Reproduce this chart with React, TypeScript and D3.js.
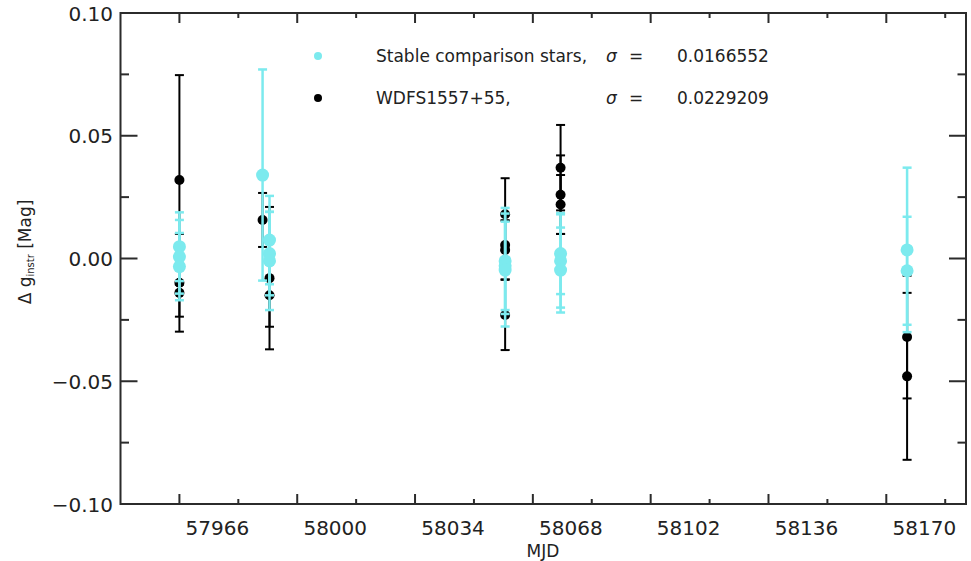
import React from "react";
import * as d3 from "d3";

// Comparison-star nights: MJD, Δg and 1σ error
const cmpMjd = [57966, 57966, 57966, 57990, 57992, 57992, 57992, 58060, 58060, 58060, 58076, 58076, 58076, 58176, 58176];
const cmpDmag = [0.0048, 0.0007, -0.0033, 0.034, 0.0075, 0.002, -0.001, -0.001, -0.003, -0.0047, 0.002, -0.001, -0.0047, 0.0035, -0.005];
const cmpErr = [0.014, 0.015, 0.0137, 0.043, 0.018, 0.017, 0.02, 0.0216, 0.018, 0.023, 0.0165, 0.019, 0.0173, 0.0335, 0.022];

// WDFS1557+55 measurements
const wdMjd = [57966, 57966, 57966, 57990, 57992, 57992, 58060, 58060, 58060, 58060, 58076, 58076, 58076, 58176, 58176];
const wdDmag = [0.032, -0.0099, -0.014, 0.0157, -0.008, -0.015, 0.018, 0.0055, 0.0035, -0.023, 0.037, 0.026, 0.022, -0.032, -0.048];
const wdErr = [0.0427, 0.0199, 0.0097, 0.011, 0.029, 0.0128, 0.0147, 0.01, 0.012, 0.0143, 0.0174, 0.016, 0.012, 0.025, 0.034];

const xMajor = [57966, 58000, 58034, 58068, 58102, 58136, 58170];
const xMinor = [57983, 58017, 58051, 58085, 58119, 58153, 58187];
const yMajor = [-0.1, -0.05, 0, 0.05, 0.1];
const yMinor = [-0.075, -0.025, 0.025, 0.075];

const legendNames = ["Stable comparison stars,", "WDFS1557+55,"];
const legendSigma = ["0.0166552", "0.0229209"];

const W = 971;
const H = 561;
const left = 120.5;
const right = 966;
const top = 13;
const bottom = 504;

const CYAN = "#7ceaee";
const AXIS = "#2b2b2b";
const FONT = "DejaVu Sans, sans-serif";

export default function App() {
  const x = d3.scaleLinear().domain([57949, 58193]).range([left, right]);
  const y = d3.scaleLinear().domain([-0.1, 0.1]).range([bottom, top]);
  const capW = 4.5;

  const bars = (mjd: number[], dm: number[], er: number[], color: string, lw: number, r: number, key: string) => (
    <g key={key}>
      {mjd.map((m, i) => {
        const cx = x(m);
        const y1 = y(dm[i] + er[i]);
        const y2 = y(dm[i] - er[i]);
        return (
          <g key={i} stroke={color} strokeWidth={lw}>
            <line x1={cx} x2={cx} y1={y1} y2={y2} />
            <line x1={cx - capW} x2={cx + capW} y1={y1} y2={y1} />
            <line x1={cx - capW} x2={cx + capW} y1={y2} y2={y2} />
          </g>
        );
      })}
      {mjd.map((m, i) => (
        <circle key={"p" + i} cx={x(m)} cy={y(dm[i])} r={r} fill={color} />
      ))}
    </g>
  );

  return (
    <svg width={W} height={H} style={{ position: "absolute", left: 0, top: 0, background: "#fff" }} fontFamily={FONT}>
      {/* data: target first, comparison stars over it */}
      {bars(wdMjd, wdDmag, wdErr, "#000", 2, 5, "wd")}
      {bars(cmpMjd, cmpDmag, cmpErr, CYAN, 2.5, 6.5, "cmp")}

      {/* frame */}
      <rect x={left} y={top} width={right - left} height={bottom - top} fill="none" stroke={AXIS} strokeWidth={2} />

      {/* ticks on all four sides */}
      <g stroke={AXIS} strokeWidth={2}>
        {xMajor.map((t) => (
          <g key={t}>
            <line x1={x(t)} x2={x(t)} y1={bottom} y2={bottom - 10} />
            <line x1={x(t)} x2={x(t)} y1={top} y2={top + 10} />
          </g>
        ))}
        {xMinor.map((t) => (
          <g key={t}>
            <line x1={x(t)} x2={x(t)} y1={bottom} y2={bottom - 5} />
            <line x1={x(t)} x2={x(t)} y1={top} y2={top + 5} />
          </g>
        ))}
        {yMajor.map((t) => (
          <g key={t}>
            <line x1={left} x2={left + 17} y1={y(t)} y2={y(t)} />
            <line x1={right} x2={right - 17} y1={y(t)} y2={y(t)} />
          </g>
        ))}
        {yMinor.map((t) => (
          <g key={t}>
            <line x1={left} x2={left + 8.5} y1={y(t)} y2={y(t)} />
            <line x1={right} x2={right - 8.5} y1={y(t)} y2={y(t)} />
          </g>
        ))}
      </g>

      {/* tick labels */}
      <g fill="#222" fontSize={20}>
        {xMajor.map((t) => (
          <text key={t} x={x(t) + 38} y={535} textAnchor="middle">
            {t}
          </text>
        ))}
        {yMajor.map((t) => (
          <text key={t} x={113} y={y(t) + 2} textAnchor="end" dominantBaseline="middle">
            {t < 0 ? "\u2212" + d3.format(".2f")(-t) : d3.format(".2f")(t)}
          </text>
        ))}
      </g>

      {/* axis titles */}
      <text x={543} y={557} textAnchor="middle" fontSize={17} fill="#222">
        MJD
      </text>
      <text transform="translate(31,252) rotate(-90)" textAnchor="middle" fontSize={17} fill="#222">
        <tspan>Δ g</tspan>
        <tspan fontSize={10} dy={3}>instr</tspan>
        <tspan dy={-3}> [Mag]</tspan>
      </text>

      {/* legend */}
      <g fontSize={17} fill="#222">
        {legendNames.map((name, i) => (
          <g key={name}>
            <circle cx={318} cy={56 + i * 42} r={4} fill={i === 0 ? CYAN : "#000"} />
            <text x={376} y={62 + i * 42}>{name}</text>
            <text x={606} y={62 + i * 42} fontStyle="italic">σ</text>
            <text x={629} y={62 + i * 42}>=</text>
            <text x={677} y={62 + i * 42}>{legendSigma[i]}</text>
          </g>
        ))}
      </g>
    </svg>
  );
}
